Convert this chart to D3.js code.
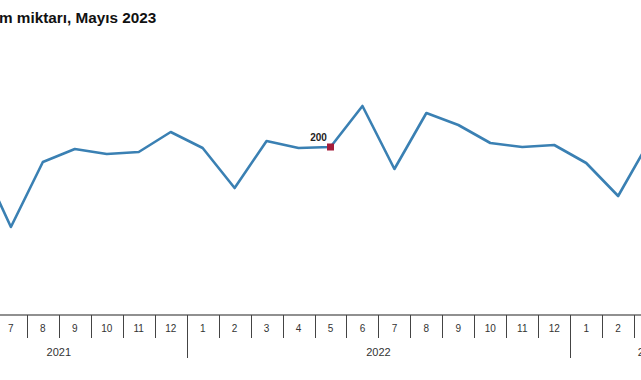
<!DOCTYPE html>
<html>
<head>
<meta charset="utf-8">
<script src="https://cdn.jsdelivr.net/npm/d3@7"></script>
<style>
  body { margin: 0; background: #fff; overflow: hidden; }
  svg { display: block; }
</style>
</head>
<body>
<script>
const width = 641;
const height = 380;

// months shown on the axis, May 2021 .. May 2023 (edges fall outside the crop)
const years = ["2021", "2022", "2023"];
const monthsPerYear = [
    [5, 6, 7, 8, 9, 10, 11, 12],
    [1, 2, 3, 4, 5, 6, 7, 8, 9, 10, 11, 12],
    [1, 2, 3, 4, 5]
];
// values (null = outside the visible part)
const values = [
    null, 194.5, 160, 192.5, 199, 196.5, 197.5, 207.5,
    199.5, 179.5, 203, 199.5, 200, 220.5, 189, 217, 211, 202, 200, 201,
    192, 175.5, 203.5, null, null
];
const highlightKey = "2022-5";
const highlightLabel = "200";

const cats = [];
years.forEach((yr, i) => {
    monthsPerYear[i].forEach(m => cats.push({ key: yr + "-" + m, year: yr, month: m }));
});
cats.forEach((c, i) => c.value = values[i]);

const svg = d3.select("body")
    .append("svg")
    .attr("width", width)
    .attr("height", height);

svg.append("text")
    .attr("x", -1)
    .attr("y", 23)
    .attr("font-family", "Liberation Sans, Arial, sans-serif")
    .attr("font-size", "15.3px")
    .attr("font-weight", "bold")
    .attr("fill", "#111")
    .text("m miktarı, Mayıs 2023");

const x = d3.scaleBand()
    .domain(cats.map(d => d.key))
    .range([-69, 730])
    .padding(0);

const y = d3.scaleLinear()
    .domain([140, 230])
    .range([267, 87]);

const axisY = 315;

// axis line
svg.append("line")
    .attr("x1", 0).attr("x2", width)
    .attr("y1", axisY).attr("y2", axisY)
    .attr("stroke", "#222")
    .attr("stroke-width", 1.2);

// separators between months, longer at year boundaries
cats.forEach((c, i) => {
    if (i === 0) return;
    const bx = Math.round(x(c.key)) + 0.5;
    const isYear = c.month === 1;
    svg.append("line")
        .attr("x1", bx).attr("x2", bx)
        .attr("y1", axisY)
        .attr("y2", isYear ? 358 : 338)
        .attr("stroke", "#444")
        .attr("stroke-width", 1);
});

// month labels (only those inside the visible crop)
const cx = d => x(d.key) + x.bandwidth() / 2;
svg.append("g")
    .selectAll("text")
    .data(cats.filter(d => cx(d) > 0 && cx(d) < width))
    .join("text")
    .attr("x", cx)
    .attr("y", 332)
    .attr("text-anchor", "middle")
    .attr("font-family", "Liberation Sans, Arial, sans-serif")
    .attr("font-size", "10px")
    .attr("fill", "#333")
    .text(d => d.month);

// year labels centred under their months
years.forEach((yr, i) => {
    const ms = cats.filter(c => c.year === yr);
    const x0 = x(ms[0].key);
    const x1 = x(ms[ms.length - 1].key) + x.bandwidth();
    svg.append("text")
        .attr("x", (x0 + x1) / 2)
        .attr("y", 356)
        .attr("text-anchor", "middle")
        .attr("font-family", "Liberation Sans, Arial, sans-serif")
        .attr("font-size", "11px")
        .attr("fill", "#333")
        .text(yr);
});

const line = d3.line()
    .defined(d => d.value != null)
    .x(cx)
    .y(d => y(d.value));

svg.append("path")
    .datum(cats)
    .attr("d", line)
    .attr("fill", "none")
    .attr("stroke", "#3a80b3")
    .attr("stroke-width", 2.6)
    .attr("stroke-linejoin", "round");

const hl = cats.find(c => c.key === highlightKey);
const hx = cx(hl);
const hy = y(hl.value);

svg.append("rect")
    .attr("x", hx - 3.5)
    .attr("y", hy - 3.5)
    .attr("width", 7)
    .attr("height", 7)
    .attr("fill", "#a51d3a");

svg.append("text")
    .attr("x", hx - 12)
    .attr("y", hy - 6)
    .attr("text-anchor", "middle")
    .attr("font-family", "Liberation Sans, Arial, sans-serif")
    .attr("font-size", "10px")
    .attr("font-weight", "bold")
    .attr("fill", "#222")
    .text(highlightLabel);
</script>
</body>
</html>
